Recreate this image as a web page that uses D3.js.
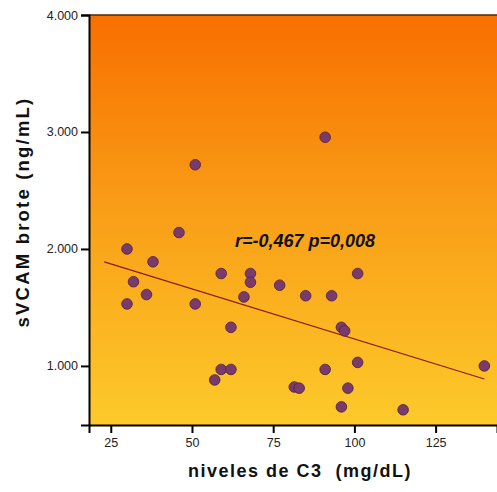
<!DOCTYPE html>
<html>
<head>
<meta charset="utf-8">
<script src="https://cdn.jsdelivr.net/npm/d3@7"></script>
<style>
  body { margin: 0; background: #fff; }
  svg { display: block; font-family: Arial, "Liberation Sans", sans-serif; }
</style>
</head>
<body>
<div id="chart"></div>
<script>
// C3 levels (mg/dL) vs sVCAM in outbreak (ng/mL)
const c3Values = [30, 46, 51, 38, 32, 36, 30, 51, 59, 57, 68, 68, 77, 66, 85, 93,
   101, 62, 96, 97, 59, 62, 81.5, 83, 91, 101, 98, 96, 115, 140, 91];
const svcamValues = [2000, 2140, 2720, 1890, 1720, 1610, 1530, 1530, 1790, 880, 1790,
   1715, 1690, 1590, 1600, 1600, 1790, 1330, 1330, 1300, 970, 970, 820, 810, 970,
   1030, 810, 650, 625, 1000, 2955];

// Fitted line end points
const fitX = [23, 140];
const fitY = [1890, 888];

const xTicks = [25, 50, 75, 100, 125];
const yTicks = [1000, 2000, 3000, 4000];
const annotation = "r=-0,467 p=0,008";

const width = 497, height = 492;
const margin = { top: 15, right: 0, bottom: 67, left: 89 };

const x = d3.scaleLinear()
   .domain([18.3, 143.9])
   .range([margin.left, width - margin.right]);
const y = d3.scaleLinear()
   .domain([495, 4000])
   .range([height - margin.bottom, margin.top]);

const svg = d3.select("#chart").append("svg")
   .attr("width", width)
   .attr("height", height);

// Background gradient of the plot area
const grad = svg.append("defs").append("linearGradient")
   .attr("id", "bg")
   .attr("x1", 0).attr("y1", 0).attr("x2", 0).attr("y2", 1);
grad.append("stop").attr("offset", "0%").attr("stop-color", "#f86f00");
grad.append("stop").attr("offset", "50%").attr("stop-color", "#f9a018");
grad.append("stop").attr("offset", "100%").attr("stop-color", "#fdca2a");

svg.append("rect")
   .attr("x", margin.left)
   .attr("y", margin.top)
   .attr("width", width - margin.left - margin.right)
   .attr("height", height - margin.top - margin.bottom)
   .attr("fill", "url(#bg)");

// Top border
svg.append("line")
   .attr("x1", margin.left).attr("x2", width)
   .attr("y1", margin.top).attr("y2", margin.top)
   .attr("stroke", "#4a2a10").attr("stroke-width", 1.5);

// Axes
const fmt = d => d3.format(",")(d).replace(/,/g, ".");

const yAxis = svg.append("g")
   .attr("transform", `translate(${margin.left},0)`)
   .call(d3.axisLeft(y).tickValues(yTicks).tickFormat(fmt).tickSize(8).tickPadding(3));
yAxis.select(".domain").attr("stroke", "#000").attr("stroke-width", 2);
yAxis.selectAll(".tick line").attr("stroke", "#000").attr("stroke-width", 2);
yAxis.selectAll(".tick text")
   .attr("font-size", 12.5)
   .attr("fill", "#222");

const xAxis = svg.append("g")
   .attr("transform", `translate(0,${height - margin.bottom})`)
   .call(d3.axisBottom(x).tickValues(xTicks).tickSize(8).tickPadding(5));
xAxis.select(".domain").attr("stroke", "#000").attr("stroke-width", 2);
xAxis.selectAll(".tick line").attr("stroke", "#000").attr("stroke-width", 2);
xAxis.selectAll(".tick text")
   .attr("font-size", 12.5)
   .attr("fill", "#222");

// Fit line
svg.append("path")
   .datum(fitX.map((d, i) => [d, fitY[i]]))
   .attr("fill", "none")
   .attr("stroke", "#8a1a05")
   .attr("stroke-width", 1.2)
   .attr("d", d3.line().x(d => x(d[0])).y(d => y(d[1])));

// Points
svg.append("g")
   .selectAll("circle")
   .data(c3Values.map((d, i) => [d, svcamValues[i]]))
   .join("circle")
   .attr("cx", d => x(d[0]))
   .attr("cy", d => y(d[1]))
   .attr("r", 5.3)
   .attr("fill", "#7a3a6c")
   .attr("stroke", "#55283c")
   .attr("stroke-width", 0.9);

// Annotation
svg.append("text")
   .attr("x", 235)
   .attr("y", 247)
   .attr("font-size", 18)
   .attr("font-weight", "bold")
   .attr("font-style", "italic")
   .attr("fill", "#111")
   .text(annotation);

// Axis titles
svg.append("text")
   .attr("x", 300)
   .attr("y", 477)
   .attr("text-anchor", "middle")
   .attr("font-size", 18)
   .attr("font-weight", "bold")
   .attr("letter-spacing", 1.5)
   .attr("fill", "#111")
   .attr("xml:space", "preserve")
   .text("niveles de C3  (mg/dL)");

svg.append("text")
   .attr("transform", "translate(29,212) rotate(-90)")
   .attr("text-anchor", "middle")
   .attr("font-size", 18.5)
   .attr("font-weight", "bold")
   .attr("letter-spacing", 2.2)
   .attr("fill", "#111")
   .text("sVCAM brote (ng/mL)");
</script>
</body>
</html>
